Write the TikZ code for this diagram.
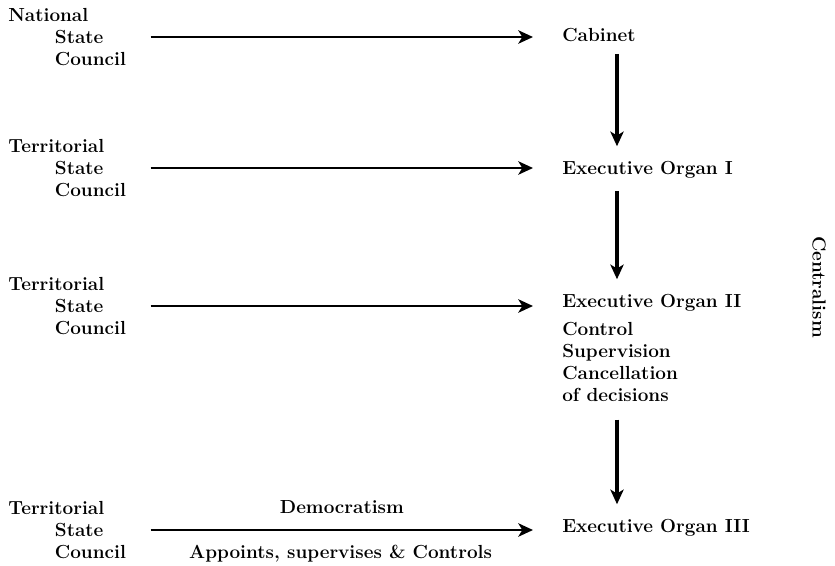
\documentclass[tikz,border=0pt]{standalone}
\usepackage{tikz}
\usetikzlibrary{positioning,arrows.meta}

\begin{document}
\begin{tikzpicture}
[x=0.75pt, y=-0.75pt,
 txt/.style={inner sep=0pt, align=left, font=\fontsize{14.2}{16.5}\selectfont\bfseries},
 council/.style={txt, anchor=west, text width=93pt},
 organ/.style={txt, anchor=west},
 feed/.style={line width=2.2pt, -{Stealth[length=11pt,width=10pt,inset=3pt]},
   shorten <=13.5pt, shorten >=21.75pt},
 order/.style={line width=2.6pt, -{Stealth[length=11pt,width=10pt,inset=3pt]},
   shorten <=9pt, shorten >=11.25pt}]
\useasboundingbox (0,0) rectangle (835,565);

% councils
\node[council] (nsc) at (8,37) {National\\\hspace*{35pt}State\\\hspace*{35pt}Council};
\node[council] (tsc1) at (8,168) {Territorial\\\hspace*{35pt}State\\\hspace*{35pt}Council};
\node[council] (tsc2) at (8,306) {Territorial\\\hspace*{35pt}State\\\hspace*{35pt}Council};
\node[council] (tsc3) at (8,530) {Territorial\\\hspace*{35pt}State\\\hspace*{35pt}Council};

% organs
\node[organ] (cab) at (562,35) {Cabinet};
\node[organ] (eo1) at (562,170) {Executive Organ I};
\node[organ] (eo2) at (562,303) {Executive Organ II};
\node[txt, below=8pt of eo2.south west, anchor=north west] (acts)
  {Control\\Supervision\\Cancellation\\of decisions};
\node[organ] (eo3) at (562,528) {Executive Organ III};

\node[txt, rotate=-90] (cent) at (819,287) {Centralism};
\coordinate (vx) at (617,0);

\draw[feed] (nsc.east) -- (nsc.east -| cab.west);
\draw[feed] (tsc1.east) -- (tsc1.east -| eo1.west);
\draw[feed] (tsc2.east) -- (tsc2.east -| eo2.west);
\draw[feed] (tsc3.east) -- (tsc3.east -| eo3.west)
  node[txt, midway, above=11pt, xshift=-4pt] (dem) {Democratism}
  node[txt, midway, below=10pt, xshift=-5pt] (app) {Appoints, supervises \& Controls};

\draw[order] (cab.south -| vx) -- (eo1.north -| vx);
\draw[order] (eo1.south -| vx) -- (eo2.north -| vx);
\draw[order, shorten <=13pt] (acts.south -| vx) -- (eo3.north -| vx);
\end{tikzpicture}
\end{document}
